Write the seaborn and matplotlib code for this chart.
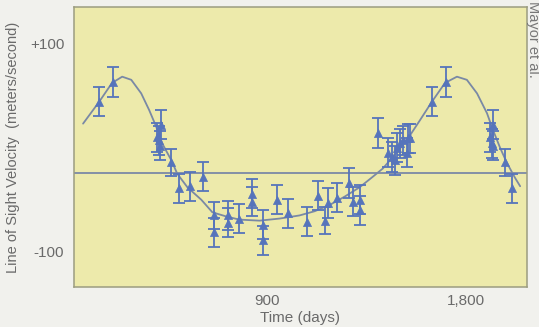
import matplotlib
matplotlib.use("Agg")
import matplotlib.pyplot as plt
import seaborn as sns
import pandas as pd

# ---- data ----
obs_time = [140, 205, 422, 404, 413, 417, 467, 503, 553, 612,
            662, 658, 725, 725, 775, 834, 834, 884, 884, 943,
            993, 1079, 1129, 1161, 1174, 1215, 1270, 1288, 1319, 1319,
            1401, 1446, 1464, 1478, 1487, 1501, 1514, 1537, 1532, 1546,
            1646, 1709, 1922, 1909, 1918, 1922, 1977, 2009]
obs_vel = [44, 63, 22, 10, 7, 2, -14, -39, -37, -28,
           -65, -81, -65, -72, -68, -44, -52, -74, -89, -50,
           -63, -71, -46, -70, -53, -48, -34, -52, -60, -50,
           14, -5, -9, -12, 0, 4, 7, 9, -5, 9,
           44, 63, 22, 10, 4, 2, -14, -39]
obs_err = [14, 14, 14, 14, 14, 14, 13, 14, 14, 14,
           13, 14, 14, 14, 14, 14, 14, 14, 14, 14,
           14, 14, 14, 13, 14, 14, 14, 14, 14, 14,
           14, 14, 14, 14, 14, 14, 14, 14, 14, 14,
           14, 14, 14, 14, 14, 14, 13, 14]

fit_time = [68, 141, 199, 245, 286, 331, 367, 399, 426, 467, 494, 540,
            603, 653, 716, 775, 866, 957, 1047, 1115, 1183, 1251, 1319,
            1378, 1424, 1469, 1532, 1591, 1646, 1705, 1759, 1804, 1850,
            1895, 1922, 1954, 1986, 2022, 2045]
fit_vel = [23, 44, 62, 68, 65, 52, 36, 20, 4, -12, -25, -38,
           -50, -62, -66, -69, -70, -68, -65, -61, -55, -47, -38,
           -28, -20, -9, 7, 26, 44, 62, 68, 65, 52,
           33, 17, 0, -15, -29, -37]

mean_vel = -24
x_ticks = [900, 1800]
x_tick_labels = ["900", "1,800"]
y_ticks = [100, mean_vel, -100]
y_tick_labels = ["+100", "", "-100"]

obs = pd.DataFrame({"time": obs_time, "vel": obs_vel, "err": obs_err})
fit = pd.DataFrame({"time": fit_time, "vel": fit_vel})

# ---- style ----
sns.set_style("white")
plt.rcParams["font.family"] = ["Liberation Sans", "DejaVu Sans"]
txt = "#6a6a6a"
blue = "#5674bb"

fig = plt.figure(figsize=(5.39, 3.27), dpi=100, facecolor="#f1f1ed")
ax = fig.add_axes([74 / 539, 1 - 287 / 327, (527 - 74) / 539, (287 - 7) / 327])
ax.set_facecolor("#edeaab")

ax.axhline(mean_vel, color="#7b89a6", lw=1.3, zorder=1)
sns.lineplot(data=fit, x="time", y="vel", sort=False, ax=ax,
             color="#7a89a5", lw=1.3, zorder=2)
ax.errorbar(obs["time"], obs["vel"], yerr=obs["err"], fmt="none",
            ecolor=blue, elinewidth=1.3, capsize=4, capthick=1.3, zorder=3)
sns.scatterplot(data=obs, x="time", y="vel", marker="^", s=34, color=blue,
                edgecolor=blue, linewidth=0.5, ax=ax, zorder=4)

ax.set_xlim(27, 2076)
ax.set_ylim(-133.6, 134.8)
ax.set_xticks(x_ticks)
ax.set_xticklabels(x_tick_labels)
ax.set_yticks(y_ticks)
ax.set_yticklabels(y_tick_labels)
ax.tick_params(axis="both", direction="in", length=6, width=1, color="#8f9070",
               labelcolor=txt, labelsize=11, pad=5)
ax.tick_params(axis="y", pad=7)
for s in ax.spines.values():
    s.set_color("#9c9d80")
    s.set_linewidth(1.1)

ax.set_xlabel("Time (days)", color=txt, fontsize=11, labelpad=2)
ax.set_ylabel("Line of Sight Velocity  (meters/second)", color=txt,
              fontsize=10.5, labelpad=7)

fig.text(0.989, 0.997, "Mayor et al.", rotation=-90, ha="center", va="top",
         color="#777777", fontsize=10.5)

fig.savefig("out.png", dpi=100, facecolor=fig.get_facecolor())
